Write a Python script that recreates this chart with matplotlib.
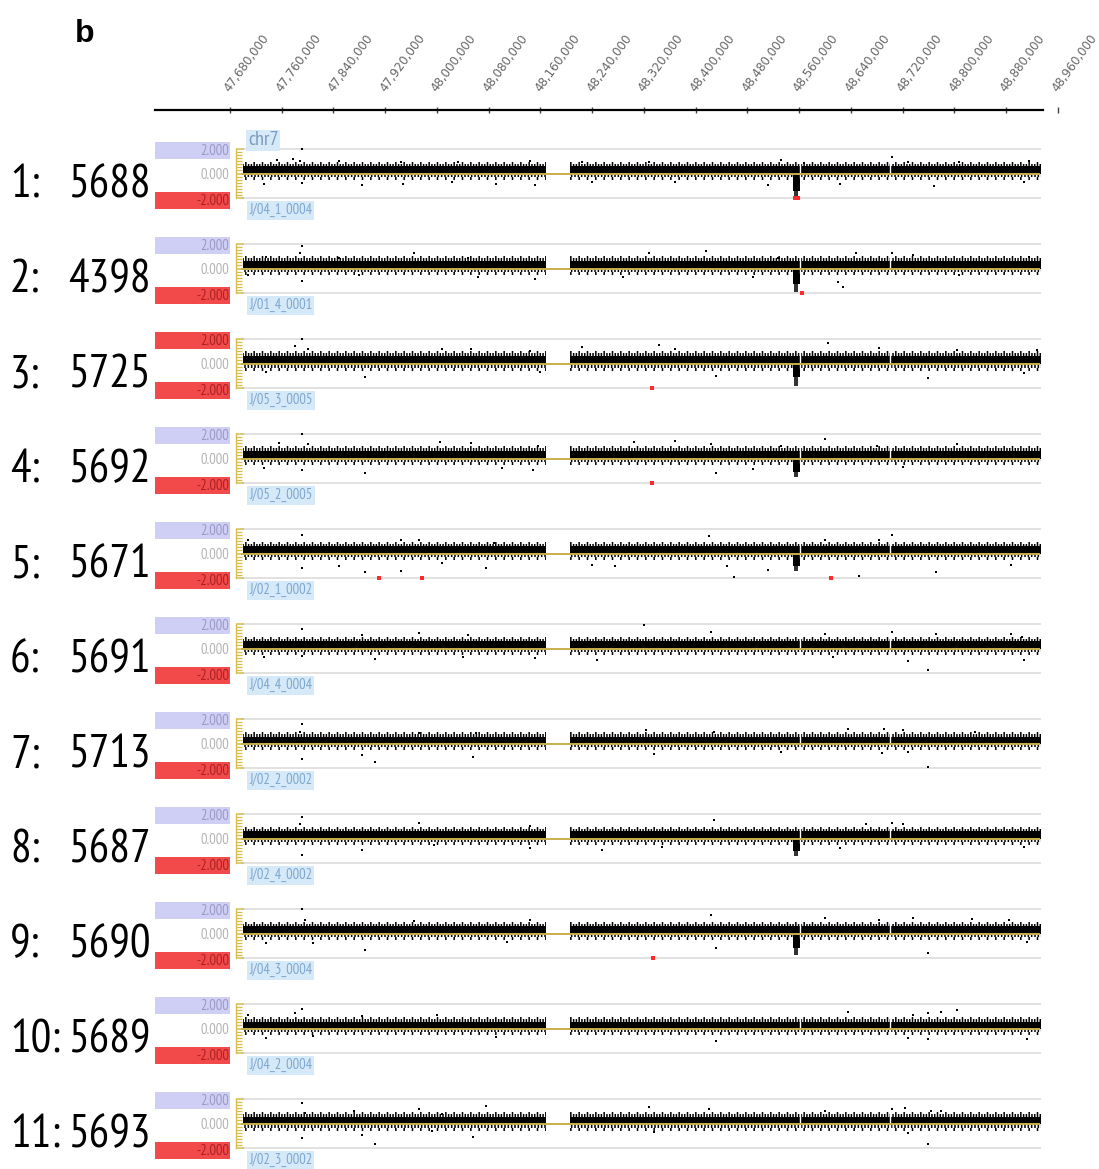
import matplotlib
matplotlib.use("Agg")
import matplotlib.pyplot as plt
from matplotlib.patches import Rectangle
from matplotlib import font_manager as fm

# ---------------- data ----------------
ROW_IDS = ["1:", "2:", "3:", "4:", "5:", "6:", "7:", "8:", "9:", "10:", "11:"]
ROW_NUMBERS = ["5688", "4398", "5725", "5692", "5671", "5691", "5713", "5687", "5690", "5689", "5693"]
SAMPLES = ["J/04_1_0004", "J/01_4_0001", "J/05_3_0005", "J/05_2_0005", "J/02_1_0002",
           "J/04_4_0004", "J/02_2_0002", "J/02_4_0002", "J/04_3_0004", "J/04_2_0004", "J/02_3_0002"]
UPPER_BOX_RED = [False, False, True, False, False, False, False, False, False, False, False]

TICK_POS = list(range(47_680_000, 48_960_001, 80_000))
SEGMENTS_KB = [(47700, 48168), (48206, 48934)]     # probe-covered regions
BREAKS_KB = [48562, 48700]                         # thin gaps in probe coverage

BAND_HI = [0.60, 0.62, 0.65, 0.62, 0.58, 0.58, 0.55, 0.58, 0.58, 0.55, 0.55]
BAND_LO = [-0.05, -0.05, -0.08, -0.05, -0.05, -0.05, -0.05, -0.05, -0.05, -0.05, -0.08]

DEL_KB = (48550, 48561)
DEL_CORE = [-1.40, -1.30, -1.10, -1.10, -1.00, None, None, -1.05, -1.20, None, None]
DEL_MAX = [-1.95, -1.90, -1.85, -1.50, -1.40, None, None, -1.40, -1.75, None, None]

OUT_POS_KB = [
    [47752, 47777, 47788, 47792, 47848, 47944, 48032, 48144, 48224, 48328, 48532, 48568, 48704, 48728, 48808, 48916,
     47732, 47792, 47884, 47948, 48024, 48092, 48152, 48240, 48368, 48512, 48624, 48768, 48908],
    [47736, 47788, 47792, 47848, 47964, 48048, 48328, 48416, 48528, 48648, 48704, 48736, 48916,
     47708, 47792, 47880, 48064, 48152, 48288, 48488, 48620, 48628, 48808],
    [47780, 47792, 47800, 48008, 48052, 48144, 48224, 48344, 48368, 48604, 48684, 48804, 48928,
     47736, 47888, 48160, 48432, 48760, 48908],
    [47756, 47792, 47800, 48004, 48052, 48156, 48304, 48368, 48424, 48532, 48600, 48680, 48804,
     47732, 47792, 47888, 48100, 48148, 48432, 48488, 48720],
    [47708, 47792, 47944, 47972, 48088, 48420, 48600, 48684, 48704,
     47792, 47848, 47888, 47944, 48008, 48076, 48240, 48276, 48448, 48460, 48512, 48652, 48772, 48888],
    [47792, 47884, 47972, 48048, 48320, 48424, 48600, 48704, 48772, 48888, 48904,
     47732, 47792, 47904, 48040, 48152, 48248, 48612, 48728, 48760, 48908],
    [47788, 47792, 47972, 48060, 48324, 48428, 48636, 48692, 48720, 48832,
     47792, 47884, 47904, 48056, 48336, 48532, 48688, 48728, 48760],
    [47788, 47792, 47972, 48144, 48428, 48664, 48704, 48720,
     47792, 47884, 47996, 48144, 48256, 48348, 48624, 48908],
    [47792, 47796, 47964, 48144, 48424, 48600, 48684, 48736, 48828, 48884,
     47736, 47808, 47888, 48108, 48432, 48760, 48912],
    [47708, 47780, 47792, 47884, 48000, 48636, 48736, 48760, 48780, 48804,
     47736, 47808, 48092, 48432, 48728, 48760, 48912],
    [47792, 47796, 47872, 47972, 48008, 48076, 48328, 48420, 48600, 48704, 48724, 48764, 48780,
     47792, 47884, 47904, 47992, 48056, 48336, 48728, 48760],
]
OUT_VAL = [
    [1.10, 1.19, 1.02, 1.99, 1.02, 0.97, 0.91, 1.02, 0.97, 0.91, 1.10, 0.83, 1.38, 0.97, 0.91, 1.02,
     -0.83, -0.74, -0.97, -0.83, -0.69, -0.83, -0.91, -0.69, -0.69, -0.97, -0.83, -1.02, -0.69],
    [0.97, 1.25, 1.86, 0.83, 1.25, 0.89, 1.25, 1.44, 0.89, 1.25, 1.25, 1.11, 0.97,
     -0.56, -1.06, -0.56, -0.69, -0.83, -0.69, -0.69, -1.11, -1.53, -0.56],
    [1.42, 1.98, 1.16, 1.21, 1.16, 1.03, 1.37, 1.50, 1.16, 1.68, 1.29, 1.10, 1.10,
     -0.68, -1.08, -0.68, -1.00, -1.21, -0.74],
    [1.25, 1.96, 1.18, 1.36, 1.25, 1.05, 1.31, 1.39, 1.18, 1.05, 1.62, 1.05, 1.18,
     -0.78, -0.92, -1.18, -0.78, -0.92, -1.18, -0.84, -0.70],
    [1.12, 1.52, 1.12, 1.12, 0.84, 1.39, 1.12, 1.12, 1.47,
     -1.20, -0.98, -1.47, -1.41, -0.79, -1.20, -0.93, -1.06, -1.06, -1.88, -1.33, -1.80, -1.52, -0.93],
    [1.62, 1.10, 1.23, 1.10, 1.88, 1.31, 1.15, 1.36, 1.15, 1.15, 0.97,
     -0.73, -0.60, -0.86, -0.73, -0.78, -0.94, -0.73, -0.99, -1.78, -0.94],
    [0.94, 1.61, 0.89, 0.89, 1.07, 0.94, 1.15, 1.21, 1.07, 0.94,
     -1.26, -0.94, -1.48, -1.07, -0.89, -0.67, -0.81, -0.67, -1.88],
    [1.15, 1.73, 1.25, 1.01, 1.47, 1.20, 1.28, 1.17,
     -1.33, -0.93, -0.53, -0.80, -0.93, -0.67, -0.80, -0.67],
    [1.98, 1.13, 0.99, 1.13, 1.54, 1.27, 1.13, 1.27, 1.21, 1.13,
     -0.80, -0.80, -1.35, -0.66, -1.21, -1.63, -0.66],
    [1.12, 1.25, 1.57, 0.99, 1.07, 1.33, 1.12, 1.25, 1.33, 1.52,
     -0.75, -0.61, -0.69, -1.01, -0.75, -0.88, -0.88],
    [1.69, 0.89, 1.02, 1.15, 0.81, 1.42, 1.34, 1.15, 1.02, 1.15, 1.23, 1.02, 1.02,
     -1.18, -0.91, -1.66, -0.59, -1.07, -0.72, -0.81, -1.66],
]
RED_POS_KB = [[48553, 48559], [48564], [48332], [48332], [47910, 47977, 48610],
              [], [], [], [48334], [], []]

# ---------------- layout helpers ----------------
W, H = 1099, 1169
plt.rcParams["hatch.linewidth"] = 1.1
plt.rcParams["hatch.color"] = "black"
fig = plt.figure(figsize=(W / 100, H / 100), dpi=100)

names = {f.name for f in fm.fontManager.ttflist}
def pick(cands):
    for c in cands:
        if c in names:
            return c
    return "DejaVu Sans"
NARROW = pick(["PT Sans Narrow", "Fira Sans Extra Condensed", "Roboto Condensed", "Liberation Sans Narrow"])
SANS = pick(["Liberation Sans", "Arial", "DejaVu Sans"])

BP_PER_PX = 1546.4
def bp(px):
    return 47_680_000 + (px - 230) * BP_PER_PX

L_PX, R_PX = 155, 1060
XLIM = (bp(L_PX), bp(R_PX))
def fx(px):
    return px / W
def fy(py):
    return 1 - py / H

# ---------------- top coordinate axis ----------------
axt = fig.add_axes([fx(L_PX), fy(112), (R_PX - L_PX) / W, 2 / H])
axt.set_xlim(*XLIM)
axt.set_ylim(0, 1)
axt.patch.set_alpha(0)
for s in ["left", "right", "bottom"]:
    axt.spines[s].set_visible(False)
axt.spines["top"].set_bounds(bp(155), bp(1043))
axt.spines["top"].set_linewidth(1.6)
axt.set_yticks([])
axt.set_xticks(TICK_POS)
axt.set_xticklabels([f"{t:,}" for t in TICK_POS])
axt.tick_params(axis="x", top=True, bottom=False, labeltop=True, labelbottom=False,
                direction="inout", length=5, width=1, color="#444444", pad=10,
                labelsize=8.6, labelcolor="#666666")
for lbl in axt.get_xticklabels():
    lbl.set_rotation(54)
    lbl.set_rotation_mode("anchor")
    lbl.set_ha("left")
    lbl.set_va("baseline")

fig.text(fx(75), fy(42), "b", fontsize=23, fontweight="bold", family=SANS, color="black")

# ---------------- panels ----------------
UNIT = 12.25      # px per log-ratio unit
YL = 3.2
YELLOW = "#d8bd4e"
for i in range(len(SAMPLES)):
    zero_py = 173.5 + 95 * i
    ax = fig.add_axes([fx(L_PX), fy(zero_py + YL * UNIT), (R_PX - L_PX) / W, 2 * YL * UNIT / H])
    ax.set_xlim(*XLIM)
    ax.set_ylim(-YL, YL)
    ax.patch.set_alpha(0)
    for s in ["right", "top", "bottom"]:
        ax.spines[s].set_visible(False)
    ax.spines["left"].set_position(("data", bp(236)))
    ax.spines["left"].set_bounds(-2, 2)
    ax.spines["left"].set_color(YELLOW)
    ax.spines["left"].set_linewidth(1.0)
    ax.set_xticks([])
    ax.set_yticks([-2, 0, 2])
    ax.set_yticks([v / 4 for v in range(-8, 9)], minor=True)
    ax.tick_params(axis="y", which="major", direction="in", length=6, width=1.1,
                   color=YELLOW, labelleft=False)
    ax.tick_params(axis="y", which="minor", direction="in", length=4, width=0.9,
                   color=YELLOW)

    data_l, data_r = bp(241), bp(1041)
    ax.hlines([-2, 2], data_l, data_r, color="#dedede", lw=1.3, zorder=1)

    # value label boxes
    box_w = bp(230) - bp(155)
    up_col = "#f24a4a" if UPPER_BOX_RED[i] else "#cfcff6"
    up_txt = "#a82222" if UPPER_BOX_RED[i] else "#9a9ac6"
    ax.add_patch(Rectangle((bp(155), 1.2), box_w, 1.35, facecolor=up_col,
                           edgecolor="none", clip_on=False))
    ax.add_patch(Rectangle((bp(155), -2.9), box_w, 1.4, facecolor="#f24a4a",
                           edgecolor="none", clip_on=False))
    ax.text(bp(229), 1.85, "2.000", ha="right", va="center", fontsize=10.5,
            family=NARROW, color=up_txt, clip_on=False)
    ax.text(bp(229), -0.15, "0.000", ha="right", va="center", fontsize=10.5,
            family=NARROW, color="#b4b4b4", clip_on=False)
    ax.text(bp(229), -2.25, "-2.000", ha="right", va="center", fontsize=10.5,
            family=NARROW, color="#a82222", clip_on=False)

    # sample id
    ax.text(bp(249), -3.0, SAMPLES[i], ha="left", va="center", fontsize=10.5,
            family=NARROW, color="#7fa8d0", clip_on=False,
            bbox=dict(facecolor="#d5e9f8", edgecolor="none", pad=1.6))
    if i == 0:
        ax.text(bp(248), 2.72, "chr7", ha="left", va="center", fontsize=14.5,
                family=NARROW, color="#7c9cbc", clip_on=False,
                bbox=dict(facecolor="#d5e9f8", edgecolor="none", pad=1.2))

    # dense probe band: solid core with textured (hatched) fringes
    for (a, b) in SEGMENTS_KB:
        xs = [a * 1000, b * 1000]
        ax.fill_between(xs, BAND_LO[i], BAND_HI[i], color="black", lw=0, zorder=3)
        ax.fill_between(xs, BAND_HI[i], BAND_HI[i] + 0.2, facecolor="none",
                        edgecolor="black", hatch="||||||", lw=0, zorder=3)
        ax.fill_between(xs, BAND_HI[i] + 0.2, BAND_HI[i] + 0.36, facecolor="none",
                        edgecolor="black", hatch="||", lw=0, zorder=3)
        ax.fill_between(xs, BAND_LO[i] - 0.26, BAND_LO[i], facecolor="none",
                        edgecolor="black", hatch="|||||", lw=0, zorder=3)
        ax.fill_between(xs, BAND_LO[i] - 0.5, BAND_LO[i] - 0.26, facecolor="none",
                        edgecolor="black", hatch="||", lw=0, zorder=3)

    # deletion
    if DEL_CORE[i] is not None:
        d0, d1 = DEL_KB
        ax.fill_between([d0 * 1000, d1 * 1000], DEL_CORE[i], BAND_LO[i], color="black",
                        lw=0, zorder=3)
        ax.fill_between([(d0 + 2) * 1000, (d1 - 2) * 1000], DEL_MAX[i], DEL_CORE[i],
                        color="black", alpha=0.8, lw=0, zorder=3)

    # outlier probes
    xs = [p * 1000 for p in OUT_POS_KB[i]]
    ax.plot(xs, OUT_VAL[i], ls="none", marker="s", ms=2.0, mfc="black", mec="black",
            mew=0, zorder=4)
    if RED_POS_KB[i]:
        ax.plot([p * 1000 for p in RED_POS_KB[i]], [-2] * len(RED_POS_KB[i]), ls="none",
                marker="s", ms=3, mfc="#ff2a2a", mec="#ff2a2a", mew=0, zorder=5)

    # coverage breaks
    for bk in BREAKS_KB:
        ax.vlines(bk * 1000, -0.4, 0.95, color="white", lw=1.0, zorder=4)

    # zero line
    ax.hlines(0, data_l, bp(1040), color="#c8b04a", lw=1.4, zorder=6)

    # big row labels
    base_py = 197.5 + 95 * i
    fig.text(fx(10), fy(base_py), ROW_IDS[i], ha="left", va="baseline",
             fontsize=33, family=NARROW, color="black")
    fig.text(fx(151), fy(base_py), ROW_NUMBERS[i], ha="right", va="baseline",
             fontsize=33, family=NARROW, color="black")

fig.savefig("out.png", dpi=100)
